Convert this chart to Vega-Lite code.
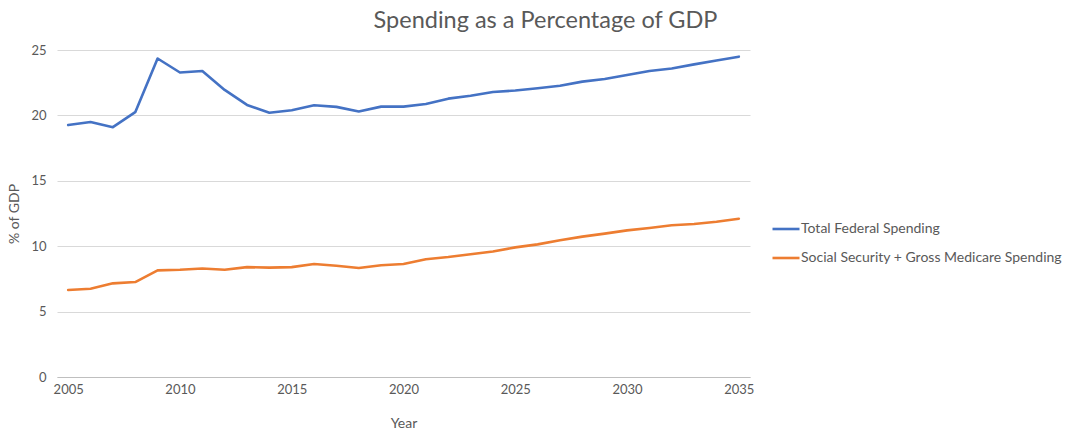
{
  "$schema": "https://vega.github.io/schema/vega-lite/v6.json",
  "autosize": "none",
  "width": 693,
  "height": 327,
  "padding": {"left": 57, "top": 50, "right": 328, "bottom": 52},
  "background": "white",
  "config": {
    "font": "Lato",
    "view": {"stroke": null}
  },
  "title": {
    "text": "Spending as a Percentage of GDP",
    "fontSize": 23.5,
    "fontWeight": "normal",
    "color": "#595959",
    "font": "Lato",
    "anchor": "middle",
    "dx": 142,
    "offset": 12
  },
  "data": {
    "values": [
      {"year": 2005, "series": "Total Federal Spending", "pct": 19.26},
      {"year": 2006, "series": "Total Federal Spending", "pct": 19.5},
      {"year": 2007, "series": "Total Federal Spending", "pct": 19.1},
      {"year": 2008, "series": "Total Federal Spending", "pct": 20.25},
      {"year": 2009, "series": "Total Federal Spending", "pct": 24.35},
      {"year": 2010, "series": "Total Federal Spending", "pct": 23.28},
      {"year": 2011, "series": "Total Federal Spending", "pct": 23.4},
      {"year": 2012, "series": "Total Federal Spending", "pct": 21.95},
      {"year": 2013, "series": "Total Federal Spending", "pct": 20.8},
      {"year": 2014, "series": "Total Federal Spending", "pct": 20.2},
      {"year": 2015, "series": "Total Federal Spending", "pct": 20.4},
      {"year": 2016, "series": "Total Federal Spending", "pct": 20.77},
      {"year": 2017, "series": "Total Federal Spending", "pct": 20.65},
      {"year": 2018, "series": "Total Federal Spending", "pct": 20.3},
      {"year": 2019, "series": "Total Federal Spending", "pct": 20.67},
      {"year": 2020, "series": "Total Federal Spending", "pct": 20.67},
      {"year": 2021, "series": "Total Federal Spending", "pct": 20.87},
      {"year": 2022, "series": "Total Federal Spending", "pct": 21.28},
      {"year": 2023, "series": "Total Federal Spending", "pct": 21.5},
      {"year": 2024, "series": "Total Federal Spending", "pct": 21.79},
      {"year": 2025, "series": "Total Federal Spending", "pct": 21.9},
      {"year": 2026, "series": "Total Federal Spending", "pct": 22.07},
      {"year": 2027, "series": "Total Federal Spending", "pct": 22.27},
      {"year": 2028, "series": "Total Federal Spending", "pct": 22.58},
      {"year": 2029, "series": "Total Federal Spending", "pct": 22.78},
      {"year": 2030, "series": "Total Federal Spending", "pct": 23.09},
      {"year": 2031, "series": "Total Federal Spending", "pct": 23.4},
      {"year": 2032, "series": "Total Federal Spending", "pct": 23.58},
      {"year": 2033, "series": "Total Federal Spending", "pct": 23.9},
      {"year": 2034, "series": "Total Federal Spending", "pct": 24.2},
      {"year": 2035, "series": "Total Federal Spending", "pct": 24.49},
      {"year": 2005, "series": "Social Security + Gross Medicare Spending", "pct": 6.65},
      {"year": 2006, "series": "Social Security + Gross Medicare Spending", "pct": 6.75},
      {"year": 2007, "series": "Social Security + Gross Medicare Spending", "pct": 7.16},
      {"year": 2008, "series": "Social Security + Gross Medicare Spending", "pct": 7.26},
      {"year": 2009, "series": "Social Security + Gross Medicare Spending", "pct": 8.15},
      {"year": 2010, "series": "Social Security + Gross Medicare Spending", "pct": 8.2},
      {"year": 2011, "series": "Social Security + Gross Medicare Spending", "pct": 8.3},
      {"year": 2012, "series": "Social Security + Gross Medicare Spending", "pct": 8.2},
      {"year": 2013, "series": "Social Security + Gross Medicare Spending", "pct": 8.4},
      {"year": 2014, "series": "Social Security + Gross Medicare Spending", "pct": 8.36},
      {"year": 2015, "series": "Social Security + Gross Medicare Spending", "pct": 8.4},
      {"year": 2016, "series": "Social Security + Gross Medicare Spending", "pct": 8.64},
      {"year": 2017, "series": "Social Security + Gross Medicare Spending", "pct": 8.5},
      {"year": 2018, "series": "Social Security + Gross Medicare Spending", "pct": 8.33},
      {"year": 2019, "series": "Social Security + Gross Medicare Spending", "pct": 8.54},
      {"year": 2020, "series": "Social Security + Gross Medicare Spending", "pct": 8.64},
      {"year": 2021, "series": "Social Security + Gross Medicare Spending", "pct": 9.0},
      {"year": 2022, "series": "Social Security + Gross Medicare Spending", "pct": 9.17},
      {"year": 2023, "series": "Social Security + Gross Medicare Spending", "pct": 9.38},
      {"year": 2024, "series": "Social Security + Gross Medicare Spending", "pct": 9.6},
      {"year": 2025, "series": "Social Security + Gross Medicare Spending", "pct": 9.91},
      {"year": 2026, "series": "Social Security + Gross Medicare Spending", "pct": 10.14},
      {"year": 2027, "series": "Social Security + Gross Medicare Spending", "pct": 10.45},
      {"year": 2028, "series": "Social Security + Gross Medicare Spending", "pct": 10.73},
      {"year": 2029, "series": "Social Security + Gross Medicare Spending", "pct": 10.96},
      {"year": 2030, "series": "Social Security + Gross Medicare Spending", "pct": 11.21},
      {"year": 2031, "series": "Social Security + Gross Medicare Spending", "pct": 11.39},
      {"year": 2032, "series": "Social Security + Gross Medicare Spending", "pct": 11.6},
      {"year": 2033, "series": "Social Security + Gross Medicare Spending", "pct": 11.7},
      {"year": 2034, "series": "Social Security + Gross Medicare Spending", "pct": 11.87},
      {"year": 2035, "series": "Social Security + Gross Medicare Spending", "pct": 12.1}
    ]
  },
  "mark": {"type": "line", "strokeWidth": 2.6, "strokeJoin": "round", "strokeCap": "round"},
  "encoding": {
    "x": {
      "field": "year",
      "type": "quantitative",
      "scale": {"domain": [2004.5, 2035.5], "nice": false, "zero": false},
      "axis": {
        "title": "Year",
        "titleFont": "Lato",
        "titleFontSize": 14,
        "titleFontWeight": "normal",
        "titleColor": "#595959",
        "titlePadding": 20,
        "values": [2005, 2010, 2015, 2020, 2025, 2030, 2035],
        "format": "d",
        "labelFont": "Lato",
        "labelFontSize": 13,
        "labelColor": "#595959",
        "labelPadding": 6,
        "ticks": false,
        "grid": false,
        "domainColor": "#bfbfbf",
        "domainWidth": 1
      }
    },
    "y": {
      "field": "pct",
      "type": "quantitative",
      "scale": {"domain": [0, 25], "nice": false},
      "axis": {
        "title": "% of GDP",
        "titleFont": "Lato",
        "titleFontSize": 14,
        "titleFontWeight": "normal",
        "titleColor": "#595959",
        "titlePadding": 9,
        "values": [0, 5, 10, 15, 20, 25],
        "labelFont": "Lato",
        "labelFontSize": 13,
        "labelColor": "#595959",
        "labelPadding": 11,
        "ticks": false,
        "domain": false,
        "grid": true,
        "gridColor": "#d9d9d9",
        "gridWidth": 1
      }
    },
    "color": {
      "field": "series",
      "type": "nominal",
      "sort": ["Total Federal Spending", "Social Security + Gross Medicare Spending"],
      "scale": {
        "domain": ["Total Federal Spending", "Social Security + Gross Medicare Spending"],
        "range": ["#4472C4", "#ED7D31"]
      },
      "legend": {
        "title": null,
        "orient": "none",
        "legendX": 714,
        "legendY": 164,
        "symbolType": "stroke",
        "symbolSize": 729,
        "symbolStrokeWidth": 2.6,
        "labelFont": "Lato",
        "labelFontSize": 14,
        "labelLimit": 400,
        "labelColor": "#595959",
        "labelOffset": 0,
        "rowPadding": 7
      }
    }
  }
}
